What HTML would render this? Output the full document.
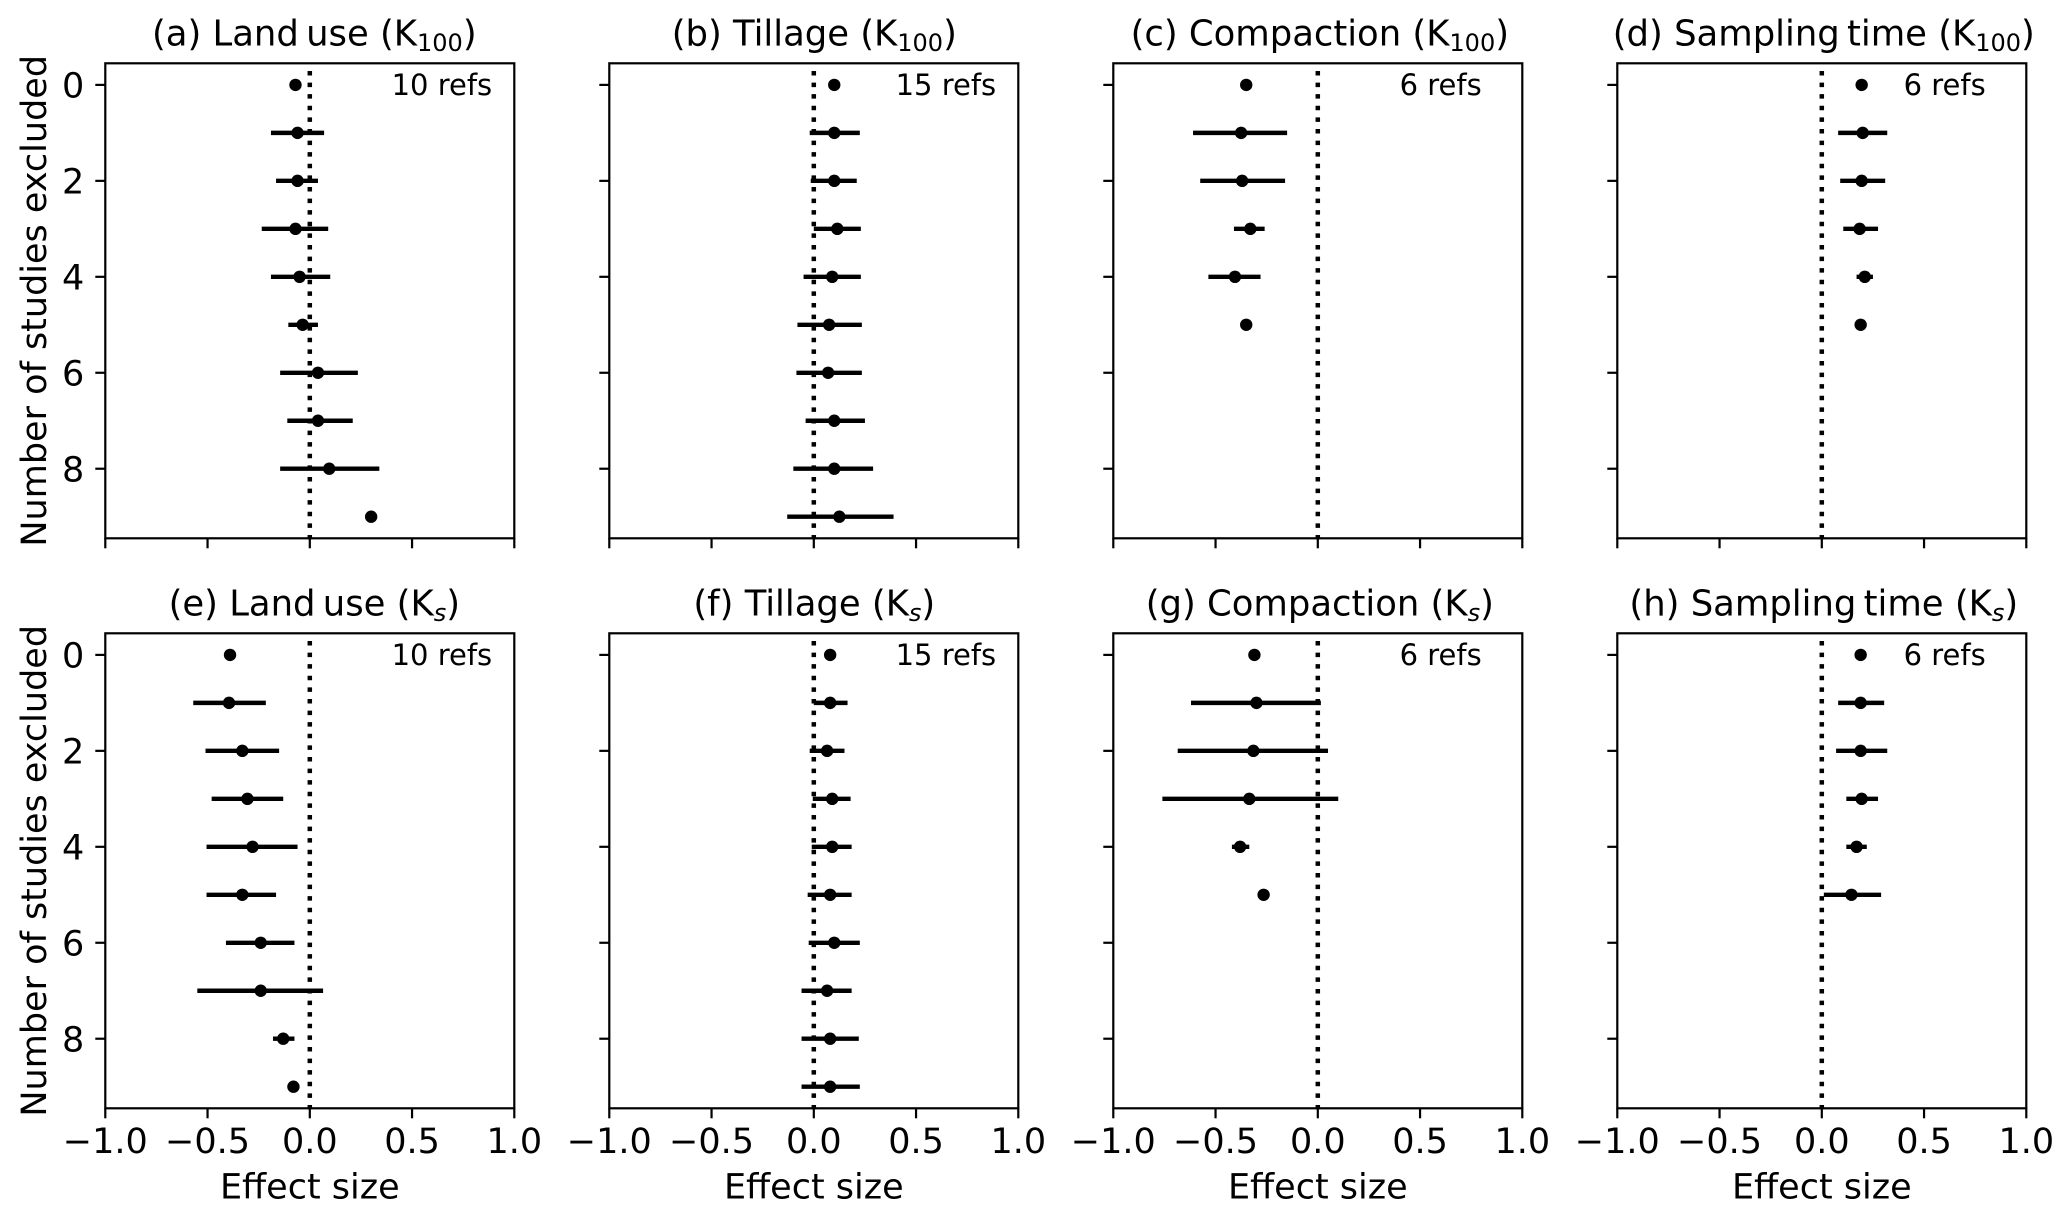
<!DOCTYPE html>
<html>
<head>
<meta charset="utf-8">
<title>Leave-k-out effect size panels</title>
<style>
html,body{margin:0;padding:0;background:#fff;}
svg{display:block;}
text{font-family:"DejaVu Sans","Liberation Sans",sans-serif;font-size:35px;fill:#000;}
</style>
</head>
<body>
<svg id="chart" xmlns="http://www.w3.org/2000/svg" width="2067" height="1216" viewBox="0 0 2067 1216"></svg>
<script>
// Chart data
const xTickValues = [-1, -0.5, 0, 0.5, 1];
const xTickLabels = ["\u22121.0", "\u22120.5", "0.0", "0.5", "1.0"];
const yTickValues = [0, 2, 4, 6, 8];
const yTickLabels = ["0", "2", "4", "6", "8"];
const panelLetters = ["a", "b", "c", "d", "e", "f", "g", "h"];
const panelNames = ["Land use", "Tillage", "Compaction", "Sampling time", "Land use", "Tillage", "Compaction", "Sampling time"];
const panelRefs = ["10 refs", "15 refs", "6 refs", "6 refs", "10 refs", "15 refs", "6 refs", "6 refs"];

const aMean = [-0.07, -0.06, -0.06, -0.07, -0.05, -0.035, 0.04, 0.04, 0.095, 0.30];
const aLow  = [null, -0.19, -0.165, -0.235, -0.19, -0.105, -0.145, -0.11, -0.145, null];
const aHigh = [null, 0.07, 0.04, 0.09, 0.10, 0.04, 0.235, 0.21, 0.34, null];

const bMean = [0.10, 0.10, 0.10, 0.115, 0.09, 0.075, 0.07, 0.10, 0.10, 0.125];
const bLow  = [null, -0.02, -0.015, 0, -0.05, -0.08, -0.085, -0.04, -0.10, -0.13];
const bHigh = [null, 0.225, 0.21, 0.23, 0.23, 0.235, 0.235, 0.25, 0.29, 0.39];

const cMean = [-0.35, -0.375, -0.37, -0.33, -0.405, -0.35];
const cLow  = [null, -0.61, -0.575, -0.41, -0.535, null];
const cHigh = [null, -0.15, -0.16, -0.26, -0.28, null];

const dMean = [0.195, 0.20, 0.195, 0.185, 0.21, 0.19];
const dLow  = [null, 0.08, 0.09, 0.105, 0.17, null];
const dHigh = [null, 0.32, 0.31, 0.275, 0.25, null];

const eMean = [-0.39, -0.395, -0.33, -0.305, -0.28, -0.33, -0.24, -0.24, -0.13, -0.08];
const eLow  = [null, -0.57, -0.51, -0.48, -0.505, -0.505, -0.41, -0.55, -0.18, null];
const eHigh = [null, -0.215, -0.15, -0.13, -0.06, -0.165, -0.075, 0.065, -0.075, null];

const fMean = [0.08, 0.08, 0.065, 0.09, 0.09, 0.08, 0.10, 0.065, 0.08, 0.08];
const fLow  = [null, 0, -0.02, -0.005, -0.01, -0.03, -0.025, -0.06, -0.06, -0.06];
const fHigh = [null, 0.165, 0.15, 0.18, 0.185, 0.185, 0.225, 0.185, 0.22, 0.225];

const gMean = [-0.31, -0.30, -0.315, -0.335, -0.38, -0.265];
const gLow  = [null, -0.62, -0.685, -0.76, -0.42, null];
const gHigh = [null, 0.015, 0.05, 0.10, -0.335, null];

const hMean = [0.19, 0.19, 0.19, 0.195, 0.17, 0.145];
const hLow  = [null, 0.08, 0.07, 0.12, 0.12, 0.01];
const hHigh = [null, 0.305, 0.32, 0.275, 0.22, 0.29];

const allMeans = [aMean, bMean, cMean, dMean, eMean, fMean, gMean, hMean];
const allLows = [aLow, bLow, cLow, dLow, eLow, fLow, gLow, hLow];
const allHighs = [aHigh, bHigh, cHigh, dHigh, eHigh, fHigh, gHigh, hHigh];

// Layout
const NS = "http://www.w3.org/2000/svg";
const svg = document.getElementById("chart");
const panelW = 409, panelH = 475, firstLeft = 105.3, stepX = 504, firstTop = 63.3, stepY = 570;
const xMin = -1, xMax = 1, yMin = -0.45, yMax = 9.45;

function panelLeft(i) { return firstLeft + (i % 4) * stepX; }
function panelTop(i) { return firstTop + Math.floor(i / 4) * stepY; }
function xScale(i, v) { return panelLeft(i) + (v - xMin) / (xMax - xMin) * panelW; }
function yScale(i, n) { return panelTop(i) + (n - yMin) / (yMax - yMin) * panelH; }
function titleShift(name) {
  if (name === "Land use") return 4.5;
  if (name === "Tillage") return 0.5;
  return 2;
}

function make(tag, parent, attrs) {
  const el = document.createElementNS(NS, tag);
  for (const k in attrs) el.setAttribute(k, attrs[k]);
  parent.appendChild(el);
  return el;
}

for (let i = 0; i < 8; i++) {
  const L = panelLeft(i), T = panelTop(i), letter = panelLetters[i];
  const isBottom = i >= 4, isLeft = i % 4 === 0;

  const g = make("g", svg, {});
  
  

  // Zero reference line
  const zero = make("line", g, {
    x1: xScale(i, 0), x2: xScale(i, 0), y1: yScale(i, -0.29), y2: T + panelH + 1,
    stroke: "#000", "stroke-width": 4.5, "stroke-dasharray": "4.5 7.1"
  });
  
  

  // Marks
  const means = allMeans[i], lows = allLows[i], highs = allHighs[i];
  for (let n = 0; n < means.length; n++) {
    if (lows[n] !== null) {
      const bar = make("line", g, {
        x1: xScale(i, lows[n]), x2: xScale(i, highs[n]), y1: yScale(i, n), y2: yScale(i, n),
        stroke: "#000", "stroke-width": 4.4
      });
      
      
    }
    const dot = make("circle", g, {
      cx: xScale(i, means[n]), cy: yScale(i, n), r: 6.2, fill: "#000"
    });
    
    
  }

  // Frame
  const frame = make("rect", g, {
    x: L, y: T, width: panelW, height: panelH, fill: "none", stroke: "#000", "stroke-width": 2.2
  });
  
  

  // X ticks
  xTickValues.forEach(function (v, k) {
    const tx = xScale(i, v);
    const tick = make("line", g, {
      x1: tx, x2: tx, y1: T + panelH, y2: T + panelH + 10, stroke: "#000", "stroke-width": 2.2
    });
    
    
    if (isBottom) {
      const label = make("text", g, { x: tx, y: T + panelH + 44.6, "text-anchor": "middle" });
      label.textContent = xTickLabels[k];
      
      
    }
  });

  // Y ticks
  yTickValues.forEach(function (v, k) {
    const ty = yScale(i, v);
    const tick = make("line", g, {
      x1: L - 10, x2: L, y1: ty, y2: ty, stroke: "#000", "stroke-width": 2.2
    });
    
    
    if (isLeft) {
      const label = make("text", g, { x: L - 21, y: ty + 12.7, "text-anchor": "end" });
      label.textContent = yTickLabels[k];
      
      
    }
  });

  // Title with mathtext-like subscript
  const title = make("text", g, { x: L + panelW / 2 + titleShift(panelNames[i]), y: T - 17.6, "text-anchor": "middle", style: "font-size:35.4px" });
  
  
  const lead = make("tspan", title, {});
  lead.textContent = "(" + letter + ") ";
  const nameSpan = make("tspan", title, { style: "word-spacing:-4px" });
  nameSpan.textContent = panelNames[i];
  const head = make("tspan", title, {});
  head.textContent = " (K";
  const sub = make("tspan", title, { dy: 5.5, style: "font-size:24px" });
  if (isBottom) sub.setAttribute("font-style", "italic");
  sub.textContent = isBottom ? "s" : "100";
  const tail = make("tspan", title, { dy: -5.5 });
  tail.textContent = ")";

  // Reference count
  const refs = make("text", g, { x: xScale(i, 0.4), y: yScale(i, 0) + 10.3 });
  refs.setAttribute("style", "font-size:29px");
  refs.textContent = panelRefs[i];
  
  

  // Axis titles
  if (isBottom) {
    const xt = make("text", g, { x: L + panelW / 2, y: T + panelH + 90, "text-anchor": "middle" });
    xt.textContent = "Effect size";
    
    
  }
  if (isLeft) {
    const cy = T + panelH / 2;
    const yt = make("text", g, { x: 46, y: cy, "text-anchor": "middle", transform: "rotate(-90 46 " + cy + ")" });
    yt.textContent = "Number of studies excluded";
    
    
  }
}
</script>
</body>
</html>
